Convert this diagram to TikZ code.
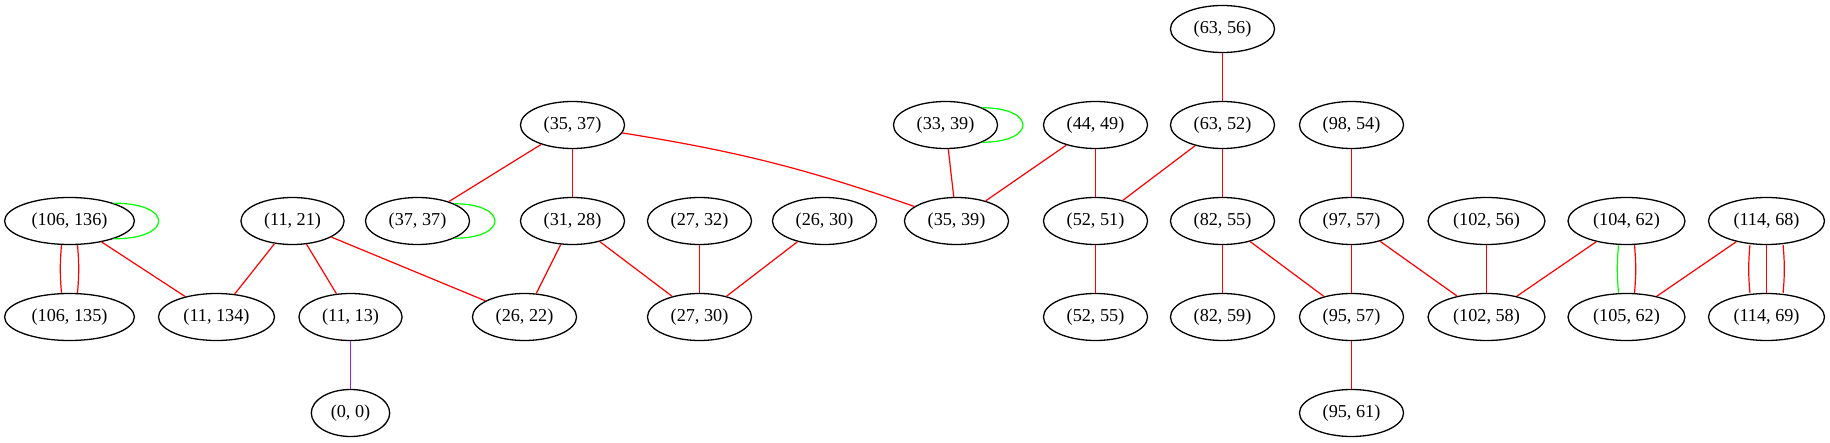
\documentclass[tikz,border=0pt]{standalone}
\usepackage{fontspec}
\setmainfont{Liberation Serif}
\usetikzlibrary{shapes.geometric}
\definecolor{gvred}{RGB}{255,0,0}
\definecolor{gvgreen}{RGB}{0,255,0}
\definecolor{gvpurple}{RGB}{160,32,240}
\tikzset{
        pair/.style = {draw, ellipse, line width=0.65pt,
            inner xsep=4pt, inner ysep=3pt,
            minimum height=23.5pt,
            minimum width=35pt,
            font=\fontsize{9.1}{11}\selectfont},
        redline/.style = {draw=gvred, line width=0.6pt},
        greenline/.style = {draw=gvgreen, line width=0.6pt},
        purpleline/.style = {draw=gvpurple, line width=0.6pt},
    }

\begin{document}
\begin{tikzpicture}[x=0.5pt,y=-0.5pt]
    \useasboundingbox (0,0) rectangle (1830,443);

  \begin{scope}[xshift=0.25pt]
    % rank 1
    \node[pair] at (1222,29) (p63_56) {(63, 56)};
    % rank 2
    \node[pair] at (572,125) (p35_37) {(35, 37)};
    \node[pair] at (945,125) (p33_39) {(33, 39)};
    \node[pair] at (1095,125) (p44_49) {(44, 49)};
    \node[pair] at (1222,125) (p63_52) {(63, 52)};
    \node[pair] at (1351,125) (p98_54) {(98, 54)};
    % rank 3
    \node[pair] at (69,221) (p106_136) {(106, 136)};
    \node[pair] at (292,221) (p11_21) {(11, 21)};
    \node[pair] at (417,221) (p37_37) {(37, 37)};
    \node[pair] at (572,221) (p31_28) {(31, 28)};
    \node[pair] at (699,221) (p27_32) {(27, 32)};
    \node[pair] at (824,221) (p26_30) {(26, 30)};
    \node[pair] at (956,221) (p35_39) {(35, 39)};
    \node[pair] at (1095,221) (p52_51) {(52, 51)};
    \node[pair] at (1222,221) (p82_55) {(82, 55)};
    \node[pair] at (1351,221) (p97_57) {(97, 57)};
    \node[pair] at (1486,221) (p102_56) {(102, 56)};
    \node[pair] at (1626,221) (p104_62) {(104, 62)};
    \node[pair] at (1766,221) (p114_68) {(114, 68)};
    % rank 4
    \node[pair] at (69,317) (p106_135) {(106, 135)};
    \node[pair] at (216,317) (p11_134) {(11, 134)};
    \node[pair] at (350,317) (p11_13) {(11, 13)};
    \node[pair] at (524,317) (p26_22) {(26, 22)};
    \node[pair] at (699,317) (p27_30) {(27, 30)};
    \node[pair] at (1095,317) (p52_55) {(52, 55)};
    \node[pair] at (1222,317) (p82_59) {(82, 59)};
    \node[pair] at (1351,317) (p95_57) {(95, 57)};
    \node[pair] at (1486,317) (p102_58) {(102, 58)};
    \node[pair] at (1626,317) (p105_62) {(105, 62)};
    \node[pair] at (1766,317) (p114_69) {(114, 69)};
    % rank 5
    \node[pair] at (350,413) (p0_0) {(0, 0)};
    \node[pair] at (1351,413) (p95_61) {(95, 61)};
  \end{scope}

    \draw[redline] (p63_56) -- (p63_52);
    \draw[redline] (p35_37) -- (p37_37);
    \draw[redline] (p35_37) -- (p31_28);
    \draw[redline] (p35_37) to[bend left=5] (p35_39);
    \draw[redline] (p33_39) -- (p35_39);
    \draw[redline] (p44_49) -- (p35_39);
    \draw[redline] (p44_49) -- (p52_51);
    \draw[redline] (p63_52) -- (p52_51);
    \draw[redline] (p63_52) -- (p82_55);
    \draw[redline] (p98_54) -- (p97_57);
    \draw[redline] (p106_136) -- (p11_134);
    \draw[redline] (p11_21) -- (p11_134);
    \draw[redline] (p11_21) -- (p11_13);
    \draw[redline] (p11_21) -- (p26_22);
    \draw[redline] (p31_28) -- (p26_22);
    \draw[redline] (p31_28) -- (p27_30);
    \draw[redline] (p27_32) -- (p27_30);
    \draw[redline] (p26_30) -- (p27_30);
    \draw[redline] (p52_51) -- (p52_55);
    \draw[redline] (p82_55) -- (p82_59);
    \draw[redline] (p82_55) -- (p95_57);
    \draw[redline] (p97_57) -- (p95_57);
    \draw[redline] (p97_57) -- (p102_58);
    \draw[redline] (p102_56) -- (p102_58);
    \draw[redline] (p104_62) -- (p102_58);
    \draw[redline] (p114_68) -- (p105_62);
    \draw[redline] (p95_57) -- (p95_61);
    \draw[purpleline] (p11_13) -- (p0_0);

    % parallel edges
    \draw[redline] ([xshift=-4pt]p106_136.south) to[bend right=5] ([xshift=-4pt]p106_135.north);
    \draw[redline] ([xshift=4pt]p106_136.south) to[bend left=5] ([xshift=4pt]p106_135.north);
    \draw[greenline] ([xshift=-4pt]p104_62.south) to[bend right=5] ([xshift=-4pt]p105_62.north);
    \draw[redline] ([xshift=4pt]p104_62.south) to[bend left=5] ([xshift=4pt]p105_62.north);
    \draw[redline] ([xshift=-8.3pt]p114_68.south) to[bend right=5] ([xshift=-8.3pt]p114_69.north);
    \draw[redline] (p114_68) -- (p114_69);
    \draw[redline] ([xshift=8.3pt]p114_68.south) to[bend left=5] ([xshift=8.3pt]p114_69.north);

    % self loops
    \draw[greenline] (p106_136.22) .. controls +(30pt,0) and +(30pt,0) .. (p106_136.-22);
    \draw[greenline] (p37_37.25) .. controls +(27pt,0) and +(27pt,0) .. (p37_37.-25);
    \draw[greenline] (p33_39.25) .. controls +(27pt,0) and +(27pt,0) .. (p33_39.-25);
\end{tikzpicture}
\end{document}
